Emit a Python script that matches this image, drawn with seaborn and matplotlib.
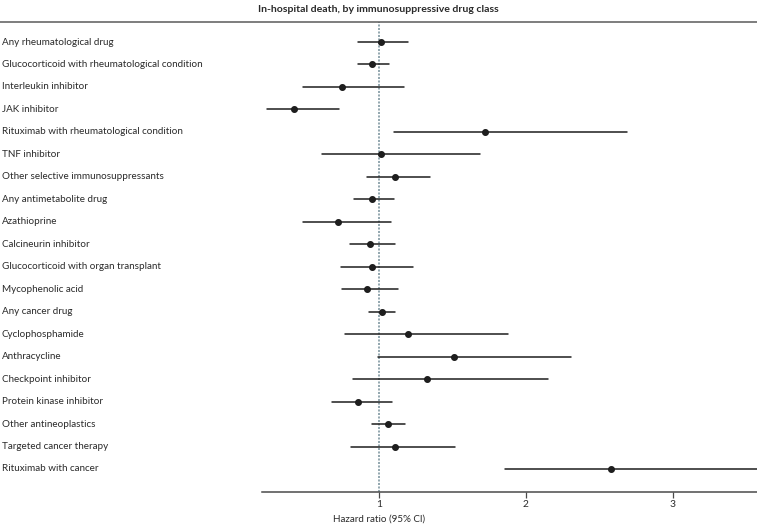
import matplotlib
matplotlib.use("Agg")
import matplotlib.pyplot as plt
import matplotlib.transforms as mtransforms
from matplotlib.lines import Line2D
import seaborn as sns
import pandas as pd

# ---- data ----
drug_classes = [
    "Any rheumatological drug",
    "Glucocorticoid with rheumatological condition",
    "Interleukin inhibitor",
    "JAK inhibitor",
    "Rituximab with rheumatological condition",
    "TNF inhibitor",
    "Other selective immunosuppressants",
    "Any antimetabolite drug",
    "Azathioprine",
    "Calcineurin inhibitor",
    "Glucocorticoid with organ transplant",
    "Mycophenolic acid",
    "Any cancer drug",
    "Cyclophosphamide",
    "Anthracycline",
    "Checkpoint inhibitor",
    "Protein kinase inhibitor",
    "Other antineoplastics",
    "Targeted cancer therapy",
    "Rituximab with cancer",
]
hazard_ratio = [1.01, 0.95, 0.75, 0.42, 1.72, 1.01, 1.11, 0.95, 0.72, 0.94,
                0.95, 0.92, 1.02, 1.20, 1.51, 1.33, 0.86, 1.06, 1.11, 2.58]
ci_lower = [0.86, 0.86, 0.48, 0.24, 1.10, 0.61, 0.92, 0.83, 0.48, 0.80,
            0.74, 0.75, 0.93, 0.77, 0.99, 0.82, 0.68, 0.95, 0.81, 1.86]
ci_upper = [1.20, 1.07, 1.17, 0.73, 2.69, 1.69, 1.35, 1.10, 1.08, 1.11,
            1.23, 1.13, 1.11, 1.88, 2.31, 2.15, 1.09, 1.18, 1.52, 3.70]
x_ticks = [1, 2, 3]
title = "In-hospital death, by immunosuppressive drug class"
x_label = "Hazard ratio (95% CI)"

# long-form table: median of (lo, hr, hi) = hr; 100% interval = (lo, hi)
rows = []
for name, lo, hr, hi in zip(drug_classes, ci_lower, hazard_ratio, ci_upper):
    for v in (lo, hr, hi):
        rows.append({"drug": name, "hr": v})
df = pd.DataFrame(rows)

sns.set_theme(style="white")
plt.rcParams["font.family"] = ["Lato", "DejaVu Sans"]

W, H = 757, 526
fig = plt.figure(figsize=(W / 100, H / 100), dpi=100)
ax_left = 262.3 / W
ax_bottom = 1 - 492 / H
ax_top = 1 - 22 / H
ax = fig.add_axes([ax_left, ax_bottom, 1 - ax_left, ax_top - ax_bottom])

line_col = "#1e1e1e"
text_col = "#2a2a2a"

sns.pointplot(data=df, x="hr", y="drug", order=drug_classes, orient="h",
              estimator="median", errorbar=("pi", 100), linestyle="none",
              color=line_col, markers="o", markersize=3.0,
              err_kws={"linewidth": 1.1, "color": line_col},
              ax=ax)

xmin, xmax = 0.205, 3.574
ax.set_xlim(xmin, xmax)
ax.set_ylim(19 + 23 / 22.47, -20 / 22.47)

# reference line at HR = 1
ax.axvline(1, color="#93a7af", linewidth=1.4, linestyle=(0, (1.05, 0.75)), zorder=0)

# spines
for s in ("top", "right", "left"):
    ax.spines[s].set_visible(False)
ax.spines["bottom"].set_color("#4a4a4a")
ax.spines["bottom"].set_linewidth(1.1)

ax.set_xticks(x_ticks)
ax.set_xticklabels([str(t) for t in x_ticks])
ax.tick_params(axis="x", direction="out", length=4, width=0.9, color="#4a4a4a",
               pad=1.5, labelsize=7.4, labelcolor=text_col, bottom=True)
ax.set_yticks([])
ax.set_ylabel("")
ax.set_xlabel("")

# left-aligned row labels at the figure's left edge
trans = mtransforms.blended_transform_factory(fig.transFigure, ax.transData)
for i, name in enumerate(drug_classes):
    ax.text(1.5 / W, i, name, transform=trans, ha="left", va="center",
            fontsize=7.15, color=text_col, clip_on=False)

# x label centred under HR = 1
xl_trans = mtransforms.blended_transform_factory(ax.transData, fig.transFigure)
ax.text(1, 1 - 519 / H, x_label, transform=xl_trans, ha="center", va="center",
        fontsize=7.1, color=text_col, clip_on=False)

# title and top rule spanning whole width
fig.text(0.5, 1 - 10 / H, title, ha="center", va="center", fontsize=7.55,
         fontweight="bold", color=text_col)
fig.add_artist(Line2D([0, 1], [ax_top, ax_top], transform=fig.transFigure,
                      color="#5a5a5a", linewidth=1.1))

fig.savefig("out.png", dpi=100)
